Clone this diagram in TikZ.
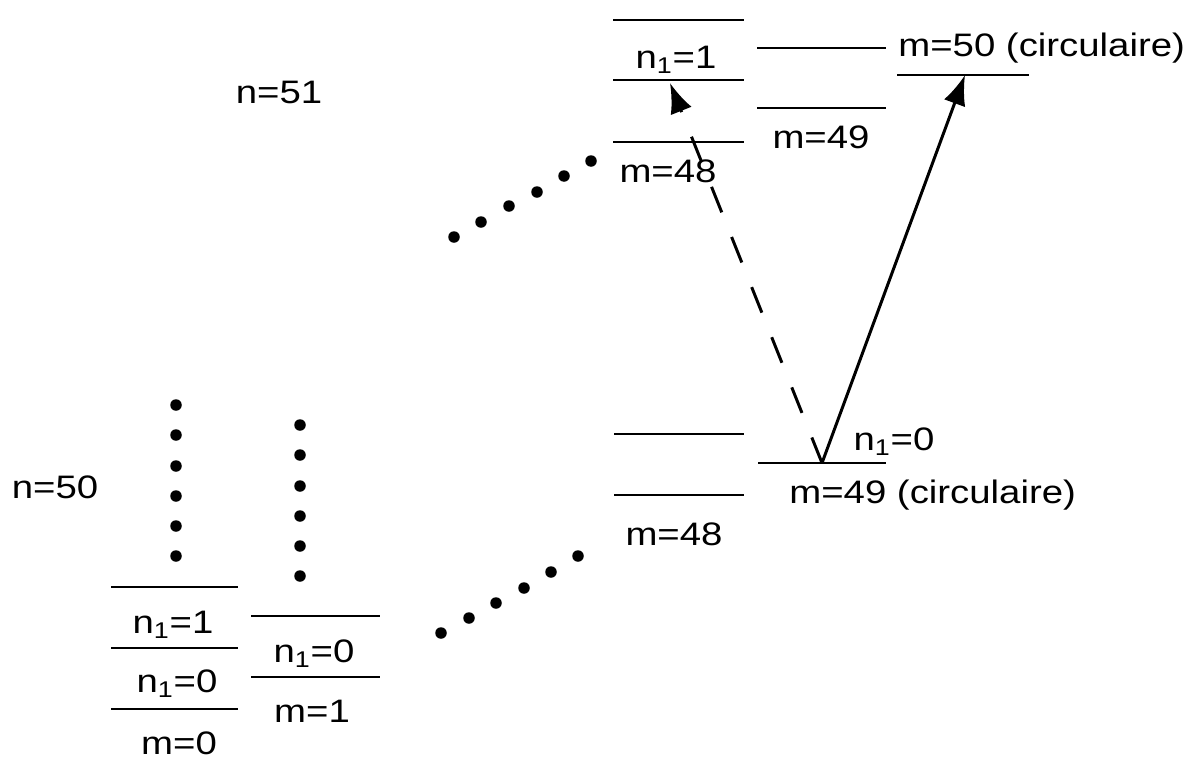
\documentclass[tikz,border=0pt]{standalone}
\usepackage{fontspec}
\setmainfont{Liberation Sans}[FakeStretch=1.18]
\usetikzlibrary{arrows.meta}
\begin{document}
\begin{tikzpicture}[x=0.02cm, y=-0.02cm]
  \tikzstyle{niv}=[line width=1.5pt]
  \tikzstyle{lab}=[font=\fontsize{18.5}{22}\selectfont, inner sep=0pt, anchor=base]
  \tikzstyle{trans}=[line width=1.7pt, -{Latex[length=0.6cm, width=0.45cm]}]
  \tikzstyle{pointille}=[trans, dash pattern=on 0.55cm off 0.53cm]

  % Cadre de la figure, en pixels de l'image d'origine
  \useasboundingbox (0,0) rectangle (1185,761);

  % Multiplicite n=50 : colonnes m=0 et m=1
  \node[lab] (lbl-n50) at (55,498) {n=50};
  \draw[niv] (111,587) -- (238,587);
  \draw[niv] (111,648) -- (238,648);
  \draw[niv] (111,709) -- (238,709);
  \draw[niv] (251,616) -- (380,616);
  \draw[niv] (251,677) -- (380,677);
  \node[lab] (lbl-a1) at (173,633) {n\textsubscript{1}=1};
  \node[lab] (lbl-a0) at (177,692) {n\textsubscript{1}=0};
  \node[lab] (lbl-m0) at (179,754) {m=0};
  \node[lab] (lbl-b0) at (314,662) {n\textsubscript{1}=0};
  \node[lab] (lbl-m1) at (312,722) {m=1};
  \foreach \y in {405,435,466,496,526,556} \fill (176,\y) circle[radius=0.115cm];
  \foreach \y in {425,455,486,516,546,576} \fill (300,\y) circle[radius=0.115cm];

  % Points de suspension vers m=48
  \foreach \x/\y in {441/633,469/618,496/603,524/588,551/572,578/556}
    \fill (\x,\y) circle[radius=0.115cm];
  \foreach \x/\y in {454/237,481/222,509/206,537/192,564/176,591/161}
    \fill (\x,\y) circle[radius=0.115cm];

  % Multiplicite n=50 : haut de l'echelle
  \draw[niv] (614,434) -- (744,434);
  \draw[niv] (614,495) -- (744,495);
  \draw[niv] (758,463) -- (886,463);
  \node[lab] (lbl-m48b) at (674,545) {m=48};
  \node[lab] (lbl-c0) at (894,450) {n\textsubscript{1}=0};
  \node[lab, anchor=base west] (lbl-m49c) at (789,503) {m=49 (circulaire)};

  % Multiplicite n=51
  \node[lab] (lbl-n51) at (279,103) {n=51};
  \draw[niv] (613,20) -- (744,20);
  \draw[niv] (613,80) -- (744,80);
  \draw[niv] (613,142) -- (744,142);
  \draw[niv] (757,48) -- (886,48);
  \draw[niv] (757,108) -- (886,108);
  \draw[niv] (897,75) -- (1029,75);
  \node[lab] (lbl-d1) at (676,68) {n\textsubscript{1}=1};
  \node[lab] (lbl-m48h) at (668,182) {m=48};
  \node[lab] (lbl-m49h) at (821,148) {m=49};
  \node[lab, anchor=base west] (lbl-m50c) at (898,56) {m=50 (circulaire)};

  % Transitions depuis le niveau circulaire m=49
  \coordinate (circ49) at (822,463);
  \coordinate (circ50) at (965,75);
  \coordinate (ell48) at (670,83);
  \draw[trans] (circ49) -- (circ50);
  \draw[pointille] (circ49) -- (ell48);
\end{tikzpicture}
\end{document}
